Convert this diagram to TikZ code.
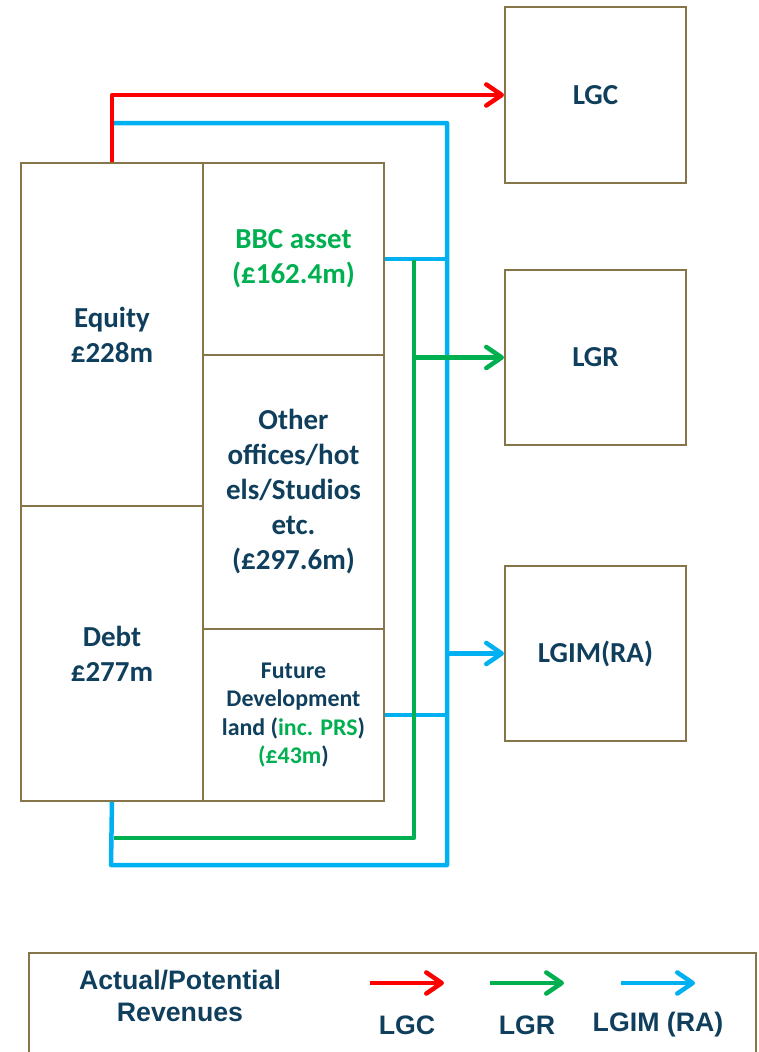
\documentclass[tikz,border=0pt]{standalone}
\usepackage{fontspec}
\setmainfont{Carlito}
\newfontfamily\legendfont{Liberation Sans}
\usepackage{xcolor}
\usetikzlibrary{arrows.meta}
\definecolor{boxedge}{HTML}{857548}
\definecolor{textdark}{HTML}{0F3F5C}
\definecolor{flowred}{HTML}{FF0000}
\definecolor{flowgreen}{HTML}{00B050}
\definecolor{flowblue}{HTML}{00B0F0}

\begin{document}
\begin{tikzpicture}[
    x=0.025cm, y=-0.025cm,
    panel/.style={draw=boxedge, line width=1.4pt, anchor=north west, inner sep=0pt},
    boxsize/.style 2 args={minimum width=#1*0.025cm, minimum height=#2*0.025cm},
    lbl/.style={font=\bfseries\fontsize{20.6}{24.9}\selectfont, text=textdark, align=center, inner sep=0pt},
    smalllbl/.style={font=\bfseries\fontsize{17}{20.3}\selectfont, text=textdark, align=center, inner sep=0pt},
    keylbl/.style={font=\legendfont\bfseries\fontsize{19}{22.8}\selectfont, text=textdark, align=center, inner sep=0pt},
    flow/.style={line width=3.2pt, line join=round},
    tip/.style={-{Straight Barb[length=11pt, width=15pt, line cap=round, line join=round]}},
  ]

  \useasboundingbox (0,0) rectangle (758,1052);
  \clip (0,0) rectangle (758,1052);

  % ---- frames of the portfolio and of the three companies
  \foreach \n/\x/\y/\w/\h in {equity/20/162/182/343, debt/20/505/182/295,
      bbc/202/162/181/192, other/202/354/181/274, future/202/628/181/172,
      lgc/504/6/181/176, lgr/504/269/181/175, lgim/504/565/181/175} {
    \node[panel, boxsize={\w}{\h}] (\n) at (\x,\y) {};
  }

  % ---- what sits in each frame
  \node[lbl] (equitytxt) at (equity) {Equity\\£228m};
  \node[lbl] (debttxt) at (debt) {Debt\\£277m};
  \node[lbl, text=flowgreen] (bbctxt) at (bbc) {BBC asset\\(£162.4m)};
  \node[lbl] (othertxt) at (other) {Other\\offices/hot\\els/Studios\\etc.\\(£297.6m)};
  \node[smalllbl] (futuretxt) at (future)
    {Future\\Development\\land (\textcolor{flowgreen}{inc. PRS})\\\textcolor{flowgreen}{(£43m}) };
  \node[lbl] (lgctxt) at (lgc) {LGC};
  \node[lbl] (lgrtxt) at (lgr) {LGR};
  \node[lbl] (lgimtxt) at (lgim) {LGIM(RA)};

  % ---- corners of the flow lines
  \coordinate (bluestart) at (111,123);
  \coordinate (blueNE) at (447,123);
  \coordinate (blueSE) at (447,865);
  \coordinate (blueSW) at (111,865);
  \coordinate (greenNE) at (414,260);
  \coordinate (greenSE) at (414,838);
  \coordinate (greenSW) at (114,838);

  % ---- LGIM(RA) flows
  \draw[flow, flowblue] (bluestart) -- (blueNE) -- (blueSE) -- (blueSW) -- (debt.south);
  \draw[flow, flowblue] (bbc.east) -- (bbc.east -| blueNE);
  \draw[flow, flowblue] (future.east) -- (future.east -| blueNE);
  \draw[flow, flowblue, tip] (lgim.west -| blueNE) -- (lgim.west);

  % ---- LGR flows
  \draw[flow, flowgreen] (greenNE) -- (greenSE) -- (greenSW);
  \draw[flow, flowgreen, tip] (lgr.west -| greenNE) -- (lgr.west);

  % ---- LGC flow
  \draw[flow, flowred, tip] (equity.north) |- (lgc.west);

  % ---- key
  \node[panel, boxsize={727}{120}] (legend) at (28,952) {};
  \node[keylbl] (keytitle) at (180,996) {Actual/Potential\\Revenues};
  \foreach \k/\x/\c/\t in {red/370/flowred/LGC, green/490/flowgreen/LGR, blue/621/flowblue/LGIM (RA)} {
    \coordinate (key\k A) at (\x,983);
    \coordinate (key\k B) at (\x+74,983);
    \draw[flow, \c, tip] (key\k A) -- (key\k B);
    \node[keylbl] (key\k txt) at (\x+37,1025) {\t};
  }

\end{tikzpicture}
\end{document}
